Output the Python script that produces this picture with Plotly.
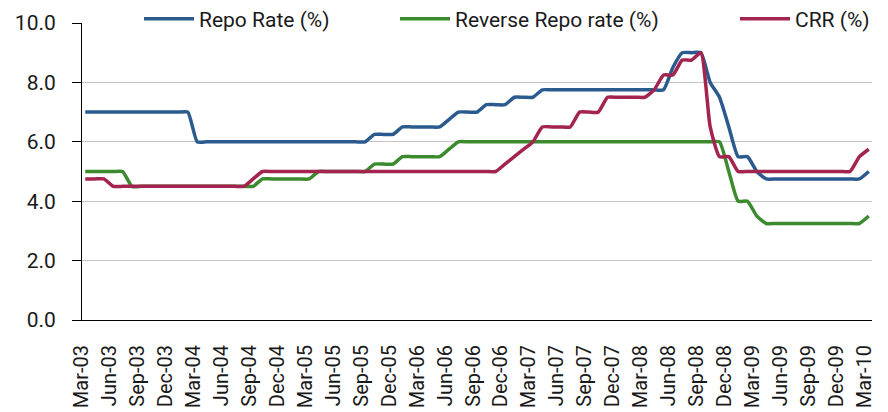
import plotly.graph_objects as go

# monthly observations, Mar-03 .. Mar-10
months = [
    "Mar-03", "Apr-03", "May-03", "Jun-03", "Jul-03", "Aug-03", "Sep-03", "Oct-03", "Nov-03", "Dec-03",
    "Jan-04", "Feb-04", "Mar-04", "Apr-04", "May-04", "Jun-04", "Jul-04", "Aug-04", "Sep-04", "Oct-04", "Nov-04", "Dec-04",
    "Jan-05", "Feb-05", "Mar-05", "Apr-05", "May-05", "Jun-05", "Jul-05", "Aug-05", "Sep-05", "Oct-05", "Nov-05", "Dec-05",
    "Jan-06", "Feb-06", "Mar-06", "Apr-06", "May-06", "Jun-06", "Jul-06", "Aug-06", "Sep-06", "Oct-06", "Nov-06", "Dec-06",
    "Jan-07", "Feb-07", "Mar-07", "Apr-07", "May-07", "Jun-07", "Jul-07", "Aug-07", "Sep-07", "Oct-07", "Nov-07", "Dec-07",
    "Jan-08", "Feb-08", "Mar-08", "Apr-08", "May-08", "Jun-08", "Jul-08", "Aug-08", "Sep-08", "Oct-08", "Nov-08", "Dec-08",
    "Jan-09", "Feb-09", "Mar-09", "Apr-09", "May-09", "Jun-09", "Jul-09", "Aug-09", "Sep-09", "Oct-09", "Nov-09", "Dec-09",
    "Jan-10", "Feb-10", "Mar-10",
]

repo_rate = [
    7.0, 7.0, 7.0, 7.0, 7.0, 7.0, 7.0, 7.0, 7.0, 7.0,
    7.0, 7.0, 6.0, 6.0, 6.0, 6.0, 6.0, 6.0, 6.0, 6.0, 6.0, 6.0,
    6.0, 6.0, 6.0, 6.0, 6.0, 6.0, 6.0, 6.0, 6.0, 6.25, 6.25, 6.25,
    6.5, 6.5, 6.5, 6.5, 6.5, 6.75, 7.0, 7.0, 7.0, 7.25, 7.25, 7.25,
    7.5, 7.5, 7.5, 7.75, 7.75, 7.75, 7.75, 7.75, 7.75, 7.75, 7.75, 7.75,
    7.75, 7.75, 7.75, 7.75, 7.75, 8.5, 9.0, 9.0, 9.0, 8.0, 7.5, 6.5,
    5.5, 5.5, 5.0, 4.75, 4.75, 4.75, 4.75, 4.75, 4.75, 4.75, 4.75, 4.75,
    4.75, 4.75, 5.0,
]

reverse_repo_rate = [
    5.0, 5.0, 5.0, 5.0, 5.0, 4.5, 4.5, 4.5, 4.5, 4.5,
    4.5, 4.5, 4.5, 4.5, 4.5, 4.5, 4.5, 4.5, 4.5, 4.75, 4.75, 4.75,
    4.75, 4.75, 4.75, 5.0, 5.0, 5.0, 5.0, 5.0, 5.0, 5.25, 5.25, 5.25,
    5.5, 5.5, 5.5, 5.5, 5.5, 5.75, 6.0, 6.0, 6.0, 6.0, 6.0, 6.0,
    6.0, 6.0, 6.0, 6.0, 6.0, 6.0, 6.0, 6.0, 6.0, 6.0, 6.0, 6.0,
    6.0, 6.0, 6.0, 6.0, 6.0, 6.0, 6.0, 6.0, 6.0, 6.0, 6.0, 5.0,
    4.0, 4.0, 3.5, 3.25, 3.25, 3.25, 3.25, 3.25, 3.25, 3.25, 3.25, 3.25,
    3.25, 3.25, 3.5,
]

crr = [
    4.75, 4.75, 4.75, 4.5, 4.5, 4.5, 4.5, 4.5, 4.5, 4.5,
    4.5, 4.5, 4.5, 4.5, 4.5, 4.5, 4.5, 4.5, 4.75, 5.0, 5.0, 5.0,
    5.0, 5.0, 5.0, 5.0, 5.0, 5.0, 5.0, 5.0, 5.0, 5.0, 5.0, 5.0,
    5.0, 5.0, 5.0, 5.0, 5.0, 5.0, 5.0, 5.0, 5.0, 5.0, 5.0, 5.25,
    5.5, 5.75, 6.0, 6.5, 6.5, 6.5, 6.5, 7.0, 7.0, 7.0, 7.5, 7.5,
    7.5, 7.5, 7.5, 7.75, 8.25, 8.25, 8.75, 8.75, 9.0, 6.5, 5.5, 5.5,
    5.0, 5.0, 5.0, 5.0, 5.0, 5.0, 5.0, 5.0, 5.0, 5.0, 5.0, 5.0,
    5.0, 5.5, 5.75,
]

tick_labels = months[::3]
y_ticks = [0, 2, 4, 6, 8, 10]

FONT = "Roboto"
BLUE = "#2B5B8E"
GREEN = "#3C8A2E"
RED = "#A3244F"

# the page body keeps its default 8px margin, so the figure is 8px smaller each way
W, H = 880, 404

fig = go.Figure()
series = [
    ("Repo Rate (%)", repo_rate, BLUE, "legend"),
    ("Reverse Repo rate (%)", reverse_repo_rate, GREEN, "legend2"),
    ("CRR (%)", crr, RED, "legend3"),
]
for name, values, color, legend in series:
    fig.add_trace(go.Scatter(x=months, y=values, name=name, mode="lines", legend=legend,
                             line=dict(color=color, width=3.5, shape="spline", smoothing=0.5)))

# one legend per series so each entry sits where the original puts it
legend_style = dict(orientation="h", xref="container", yref="container",
                    yanchor="middle", y=1 - 11 / H, xanchor="left",
                    bgcolor="rgba(0,0,0,0)", borderwidth=0, itemwidth=50,
                    font=dict(family=FONT, size=21, color="#1a1a1a"))

fig.update_layout(
    template="none",
    width=W, height=H,
    margin=dict(l=74, r=16, t=15, b=92, autoexpand=False),
    plot_bgcolor="white", paper_bgcolor="white",
    font=dict(family=FONT, size=21, color="#1a1a1a"),
    showlegend=True,
    legend=dict(legend_style, x=131 / W),
    legend2=dict(legend_style, x=387 / W),
    legend3=dict(legend_style, x=727 / W),
    # legend box hides most of the top gridline
    shapes=[dict(type="rect", xref="paper", yref="y", x0=28 / 790, x1=1.02, y0=9.95, y1=10.3,
                 fillcolor="white", line=dict(width=0), layer="below")],
)
fig.update_xaxes(type="category", range=[-0.35, 84.35], tickmode="array",
                 tickvals=tick_labels, ticktext=tick_labels, tickangle=-90, automargin=False,
                 showline=True, linecolor="black", linewidth=1, ticks="",
                 ticklabelstandoff=16, ticklabelshift=-4, showgrid=False, zeroline=False,
                 tickfont=dict(family=FONT, size=20, color="#1a1a1a"))
fig.update_yaxes(range=[0, 10], tickvals=y_ticks, tickformat=".1f", automargin=False,
                 showline=True, linecolor="black", linewidth=1,
                 ticks="outside", ticklen=9, tickcolor="black", ticklabelstandoff=12,
                 showgrid=True, gridcolor="#C4C4C4", gridwidth=1, zeroline=False,
                 tickfont=dict(family=FONT, size=21, color="#1a1a1a"))

fig.write_html("out.html")
